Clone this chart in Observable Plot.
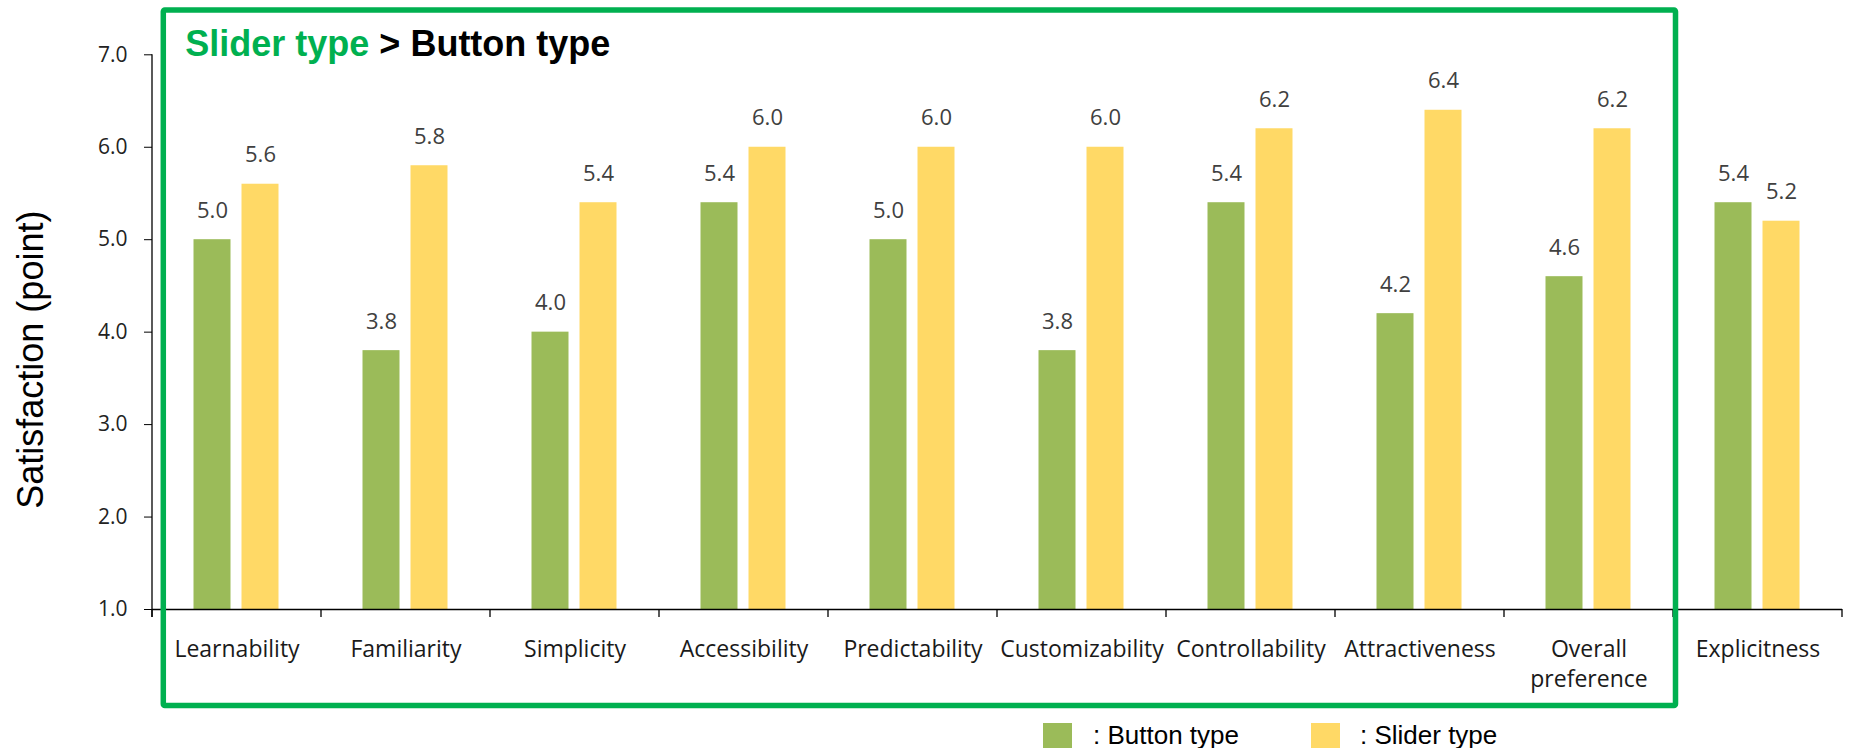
<!DOCTYPE html>
<html><head><meta charset="utf-8">
<script src="https://cdn.jsdelivr.net/npm/d3@7"></script>
<script src="https://cdn.jsdelivr.net/npm/@observablehq/plot@0.6"></script>
<style>
html,body{margin:0;padding:0;background:#fff;}
#wrap{position:relative;width:1849px;}
#wrap svg{display:block;}
#legend{position:relative;height:32px;font-family:"Liberation Sans",Arial,sans-serif;font-size:26px;color:#000;}
.sw{position:absolute;top:7px;width:29px;height:29px;}
.lt{position:absolute;top:6px;line-height:26px;white-space:nowrap;}
</style></head><body><div id="wrap"></div><div id="legend"></div>
<script>
const categories = ["Learnability","Familiarity","Simplicity","Accessibility","Predictability","Customizability","Controllability","Attractiveness","Overall preference","Explicitness"];
const series = ["Button type","Slider type"];
const buttonValues = [5.0,3.8,4.0,5.4,5.0,3.8,5.4,4.2,4.6,5.4];
const sliderValues = [5.6,5.8,5.4,6.0,6.0,6.0,6.2,6.4,6.2,5.2];
const yTicks = [1,2,3,4,5,6,7];
const seriesColors = ["#9BBB59","#FFD966"];
const boxed = categories.slice(0, 9);
const titleGreen = "Slider type";
const titleBlack = " > Button type";
const yLabel = "Satisfaction (point)";

const data = categories.flatMap((c, i) => [
  {category: c, series: series[0], value: buttonValues[i]},
  {category: c, series: series[1], value: sliderValues[i]}
]);

const chart = Plot.plot({
  width: 1849, height: 716,
  marginLeft: 148.5, marginRight: 4, marginTop: 54.3, marginBottom: 107,
  style: {fontFamily: "'Open Sans', sans-serif", background: "transparent", overflow: "visible", color: "#1a1a1a"},
  fx: {domain: categories, padding: 0, label: null},
  x: {domain: series, paddingInner: 0.22, paddingOuter: 0.852, axis: null},
  y: {domain: [1, 7], axis: null},
  color: {domain: series, range: seriesColors},
  marks: [
    Plot.barY(data, {fx: "category", x: "series", y1: 1, y2: "value", fill: "series"}),
    Plot.text(data, {fx: "category", x: "series", y: "value", text: d => d.value.toFixed(1), lineAnchor: "bottom", dy: -22, fontSize: 22, fill: "#404040"}),
    Plot.ruleY([1], {stroke: "#000", strokeWidth: 1.3}),
    Plot.axisY({ticks: yTicks, tickFormat: d => d.toFixed(1), tickSize: 8, tickPadding: 17, fontSize: 21, fill: "#222", stroke: "#000", label: null}),
    Plot.axisFx({anchor: "bottom", tickSize: 0, tickPadding: 26, fontSize: 23, fill: "#1a1a1a", label: null, lineHeight: 1.3,
      tickFormat: d => d.replace("Overall ", "Overall\n")})
  ]
});
document.getElementById("wrap").appendChild(chart);

// axis line and boundary ticks, box, title, y label – positioned from the plot's scales
const svg = d3.select(chart);
const fx = chart.scale("fx"), y = chart.scale("y");
const x0 = fx.apply(categories[0]);
const bounds = categories.map(c => fx.apply(c)).concat([fx.apply(categories[categories.length - 1]) + fx.bandwidth]);
const yb = y.apply(1), yt = y.apply(7);
const g = svg.append("g");
g.append("line").attr("x1", x0).attr("x2", x0).attr("y1", yt).attr("y2", yb + 8).attr("stroke", "#000").attr("stroke-width", 1.3);
g.selectAll("line.bt").data(bounds).join("line").attr("class", "bt")
  .attr("x1", d => d).attr("x2", d => d).attr("y1", yb).attr("y2", yb + 8).attr("stroke", "#000").attr("stroke-width", 1.3);
const bx1 = fx.apply(boxed[0]) + 11.3;
const bx2 = fx.apply(categories[boxed.length]) + 2.5;
g.append("rect").attr("x", bx1).attr("y", 10).attr("width", bx2 - bx1).attr("height", 695.5)
  .attr("fill", "none").attr("stroke", "#00B050").attr("stroke-width", 5.5).attr("rx", 1.5);
const t = g.append("text").attr("x", bx1 + 22).attr("y", 56).attr("text-anchor", "start")
  .attr("font-family", "'Liberation Sans', Arial, sans-serif").attr("font-weight", "bold").attr("font-size", 36);
t.append("tspan").attr("fill", "#00B050").text(titleGreen);
t.append("tspan").attr("fill", "#000").style("white-space", "pre").text(titleBlack);
g.append("text").attr("transform", `translate(43,${(yb + yt) / 2 + 28}) rotate(-90)`).attr("text-anchor", "middle")
  .attr("font-family", "'Liberation Sans', Arial, sans-serif").attr("font-size", 36).attr("fill", "#000").text(yLabel);

// legend
const legend = d3.select("#legend");
const legendX = [[1043, 1093], [1311, 1360]];
series.forEach((s, i) => {
  legend.append("div").attr("class", "sw").style("left", legendX[i][0] + "px").style("background", seriesColors[i]);
  legend.append("div").attr("class", "lt").style("left", legendX[i][1] + "px").text(": " + s);
});
</script></body></html>
